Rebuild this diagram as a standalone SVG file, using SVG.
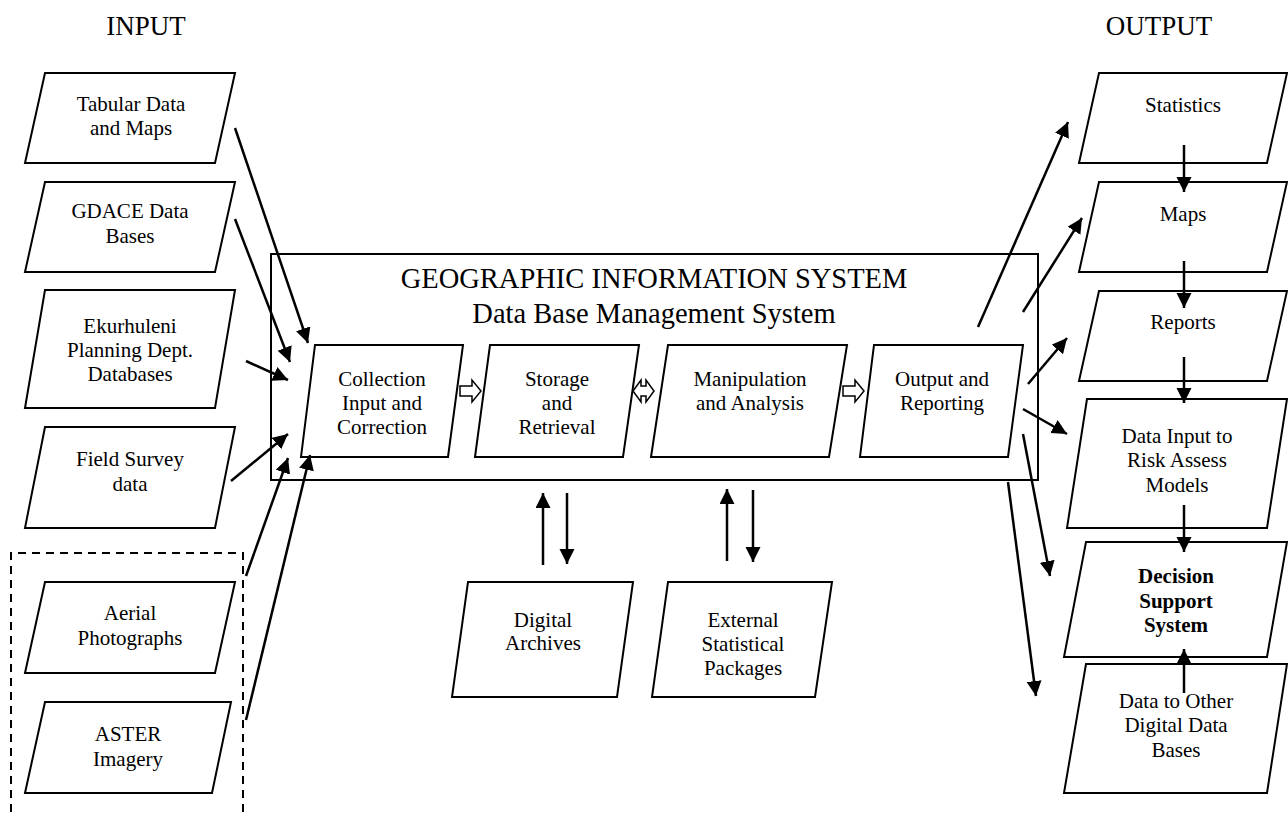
<svg xmlns="http://www.w3.org/2000/svg" width="1288" height="814" viewBox="0 0 1288 814">
<defs>
<style>
.box{fill:#fff;stroke:#000;stroke-width:2}
.t{font-family:"Liberation Serif","Times New Roman",serif;font-size:21px;fill:#000;text-anchor:middle}
.b{font-weight:bold}
.h{font-family:"Liberation Serif","Times New Roman",serif;font-size:27px;fill:#000;text-anchor:middle}
.title{font-family:"Liberation Serif","Times New Roman",serif;font-size:28.5px;fill:#000;text-anchor:middle}
.c{stroke:#000;stroke-width:2.5;fill:none;marker-end:url(#ah)}
.hol{fill:#fff;stroke:#000;stroke-width:1.5}
</style>
<marker id="ah" markerUnits="userSpaceOnUse" markerWidth="16" markerHeight="16" refX="15" refY="7.5" orient="auto">
<path d="M0,0 L15,7.5 L0,15 z" fill="#000"/>
</marker>
</defs>
<rect width="1288" height="814" fill="#fff"/>

<text class="h" x="146" y="35">INPUT</text>
<text class="h" x="1159" y="35">OUTPUT</text>

<path d="M11,812 V553 H243 V812" fill="none" stroke="#000" stroke-width="2" stroke-dasharray="8,6"/>

<g id="gis">
<rect class="box" x="271" y="254" width="767" height="226"/>
<text class="title" x="654" y="288">GEOGRAPHIC INFORMATION SYSTEM</text>
<text class="title" x="654" y="323">Data Base Management System</text>
</g>

<g id="tabular">
<polygon class="box" points="45,73 235,73 215,163 25,163"/>
<text class="t" x="131" y="111">Tabular Data</text>
<text class="t" x="131" y="135">and Maps</text>
</g>
<g id="gdace">
<polygon class="box" points="45,182 235,182 215,272 25,272"/>
<text class="t" x="130" y="218">GDACE Data</text>
<text class="t" x="130" y="243">Bases</text>
</g>
<g id="ekurhuleni">
<polygon class="box" points="45,290 235,290 215,408 25,408"/>
<text class="t" x="130" y="333">Ekurhuleni</text>
<text class="t" x="130" y="357">Planning Dept.</text>
<text class="t" x="130" y="381">Databases</text>
</g>
<g id="field">
<polygon class="box" points="45,427 235,427 215,528 25,528"/>
<text class="t" x="130" y="466">Field Survey</text>
<text class="t" x="130" y="491">data</text>
</g>
<g id="aerial">
<polygon class="box" points="45,582 235,582 215,673 25,673"/>
<text class="t" x="130" y="620">Aerial</text>
<text class="t" x="130" y="645">Photographs</text>
</g>
<g id="aster">
<polygon class="box" points="45,702 231,702 212,793 25,793"/>
<text class="t" x="128" y="741">ASTER</text>
<text class="t" x="128" y="766">Imagery</text>
</g>

<g id="collection">
<polygon class="box" points="315,345 463,345 448,457 301,457"/>
<text class="t" x="382" y="386">Collection</text>
<text class="t" x="382" y="410">Input and</text>
<text class="t" x="382" y="434">Correction</text>
</g>
<g id="storage">
<polygon class="box" points="490,345 639,345 623,457 475,457"/>
<text class="t" x="557" y="386">Storage</text>
<text class="t" x="557" y="410">and</text>
<text class="t" x="557" y="434">Retrieval</text>
</g>
<g id="manipulation">
<polygon class="box" points="668,345 847,345 829,457 651,457"/>
<text class="t" x="750" y="386">Manipulation</text>
<text class="t" x="750" y="410">and Analysis</text>
</g>
<g id="outputrep">
<polygon class="box" points="874,345 1023,345 1008,457 860,457"/>
<text class="t" x="942" y="386">Output and</text>
<text class="t" x="942" y="410">Reporting</text>
</g>

<g id="archives">
<polygon class="box" points="468,582 633,582 617,697 452,697"/>
<text class="t" x="543" y="627">Digital</text>
<text class="t" x="543" y="650">Archives</text>
</g>
<g id="external">
<polygon class="box" points="668,582 832,582 815,697 652,697"/>
<text class="t" x="743" y="627">External</text>
<text class="t" x="743" y="651">Statistical</text>
<text class="t" x="743" y="675">Packages</text>
</g>

<g id="statistics">
<polygon class="box" points="1099,73 1287,73 1267,163 1079,163"/>
<text class="t" x="1183" y="112">Statistics</text>
</g>
<g id="maps">
<polygon class="box" points="1099,182 1287,182 1267,272 1079,272"/>
<text class="t" x="1183" y="221">Maps</text>
</g>
<g id="reports">
<polygon class="box" points="1099,291 1287,291 1267,381 1079,381"/>
<text class="t" x="1183" y="329">Reports</text>
</g>
<g id="datainput">
<polygon class="box" points="1087,399 1287,399 1267,528 1067,528"/>
<text class="t" x="1177" y="443">Data Input to</text>
<text class="t" x="1177" y="467">Risk Assess</text>
<text class="t" x="1177" y="492">Models</text>
</g>
<g id="decision">
<polygon class="box" points="1086,542 1287,542 1267,657 1064,657"/>
<text class="t b" x="1176" y="583">Decision</text>
<text class="t b" x="1176" y="608">Support</text>
<text class="t b" x="1176" y="632">System</text>
</g>
<g id="dataother">
<polygon class="box" points="1086,664 1287,664 1267,793 1064,793"/>
<text class="t" x="1176" y="708">Data to Other</text>
<text class="t" x="1176" y="732">Digital Data</text>
<text class="t" x="1176" y="757">Bases</text>
</g>

<g id="connectors">
<line class="c" x1="235" y1="128" x2="308" y2="343"/>
<line class="c" x1="235" y1="219" x2="290" y2="362"/>
<line class="c" x1="246" y1="361" x2="288" y2="380"/>
<line class="c" x1="231" y1="481" x2="288" y2="434"/>
<line class="c" x1="246" y1="576" x2="288" y2="458"/>
<line class="c" x1="246" y1="720" x2="310" y2="455"/>

<polygon class="hol" points="460,386 472,386 472,380 481,391 472,402 472,396 460,396"/>
<polygon class="hol" points="633,391 641,380 641,386 646,386 646,380 654,391 646,402 646,396 641,396 641,402"/>
<polygon class="hol" points="843,386 855,386 855,380 864,391 855,402 855,396 843,396"/>

<line class="c" x1="543" y1="565" x2="543" y2="493"/>
<line class="c" x1="567" y1="493" x2="567" y2="564"/>
<line class="c" x1="727" y1="561" x2="727" y2="489"/>
<line class="c" x1="753" y1="490" x2="753" y2="562"/>

<line class="c" x1="978" y1="327" x2="1068" y2="122"/>
<line class="c" x1="1023" y1="312" x2="1082" y2="218"/>
<line class="c" x1="1028" y1="384" x2="1067" y2="338"/>
<line class="c" x1="1023" y1="409" x2="1067" y2="434"/>
<line class="c" x1="1023" y1="434" x2="1050" y2="576"/>
<line class="c" x1="1008" y1="482" x2="1036" y2="696"/>

<line class="c" x1="1184" y1="145" x2="1184" y2="192"/>
<line class="c" x1="1184" y1="261" x2="1184" y2="308"/>
<line class="c" x1="1184" y1="357" x2="1184" y2="403"/>
<line class="c" x1="1184" y1="505" x2="1184" y2="552"/>
<line class="c" x1="1184" y1="693" x2="1184" y2="649"/>
</g>
</svg>
